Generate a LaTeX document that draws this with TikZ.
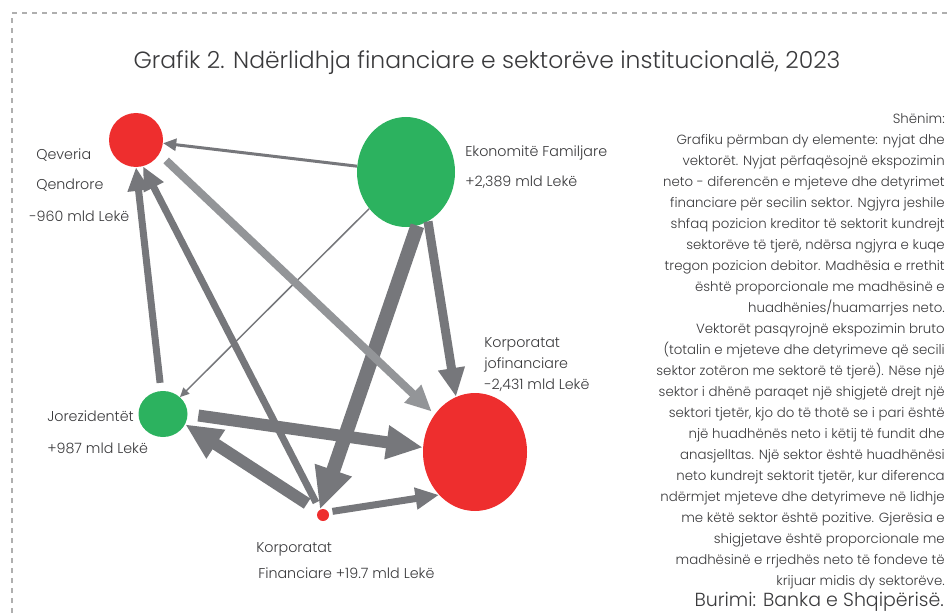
\documentclass[tikz,border=0pt]{standalone}
\usepackage{fontspec}
\setmainfont{Poppins}[UprightFont={* Light}]
\usetikzlibrary{arrows.meta,shapes.geometric}

\definecolor{kuqe}{RGB}{238,46,46}
\definecolor{jeshile}{RGB}{44,178,95}
\definecolor{shigjete}{RGB}{118,119,123}
\definecolor{shigjetecel}{RGB}{147,149,152}
\definecolor{teksti}{RGB}{58,58,60}
\definecolor{korniza}{RGB}{175,175,175}

\tikzset{
  sektor/.style={ellipse, inner sep=0pt, draw=none},
  etikete/.style={anchor=west, inner sep=0pt, text=teksti, font=\fontsize{10.7}{12}\selectfont},
  flow/.style={draw=shigjete, line width=#1*0.75pt, -{Triangle[width=4pt 2.2, length=4pt 2.6]}},
}

\begin{document}
\begin{tikzpicture}[x=0.75pt, y=-0.75pt]
\useasboundingbox (0,0) rectangle (948,613);

% korniza
\draw[korniza, line width=0.9pt, dash pattern=on 3.75pt off 3.75pt] (12,613) |- (948,13);

\node (titulli) at (487,63) [text=teksti, font=\fontsize{17.6}{20}\selectfont] {Grafik 2. Ndërlidhja financiare e sektorëve institucionalë, 2023};

% sektoret
\node[sektor, fill=kuqe, minimum width=40.5pt, minimum height=40.5pt] (qev) at (136,140) {};
\node[sektor, fill=jeshile, minimum width=73.5pt, minimum height=82.5pt] (eko) at (406,172) {};
\node[sektor, fill=jeshile, minimum width=36.75pt, minimum height=34.5pt] (jore) at (163,414) {};
\node[sektor, fill=kuqe, minimum width=9pt, minimum height=9pt] (kfin) at (323,515) {};
\node[sektor, fill=kuqe, minimum width=78pt, minimum height=88.5pt] (kjf) at (475,452) {};

% etiketat
\node[etikete] (qevA) at (36,155) {Qeveria};
\node[etikete] (qevB) at (36,185) {Qendrore};
\node[etikete] (qevC) at (29,216) {-960 mld Lekë};
\node[etikete] (ekoA) at (465,153) {Ekonomitë Familjare};
\node[etikete] (ekoB) at (465,182) {+2,389 mld Lekë};
\node[etikete] (kjfA) at (484,344) {Korporatat};
\node[etikete] (kjfB) at (484,365) {jofinanciare};
\node[etikete] (kjfC) at (484,385) {-2,431 mld Lekë};
\node[etikete] (joreA) at (47,416) {Jorezidentët};
\node[etikete] (joreB) at (47,448) {+987 mld Lekë};
\node[etikete] (kfinA) at (256,549) {Korporatat};
\node[etikete] (kfinB) at (258,573) {Financiare +19.7 mld Lekë};

% shigjetat
\draw[flow=3] (eko) -- (qev);
\draw[flow=1.5] (eko) -- (jore);
\draw[flow=14] (eko.-78) -- (kfin.121);
\draw[flow=9] (eko.-66) -- (kjf.109);
\draw[flow=8, draw=shigjetecel, shorten <=7pt, shorten >=3pt] (qev.-31) -- (kjf.137);
\draw[flow=7, shorten <=6pt] (jore.95) -- (qev.south);
\draw[flow=7, shorten <=6pt] (kfin.122) -- (qev.-75);
\draw[flow=12, shorten <=10pt] (kfin.139) -- (jore.-25);
\draw[flow=12, shorten <=8pt] (jore.east) -- (kjf.175);
\draw[flow=7, shorten <=3pt] (kfin.29) -- (kjf.-130);

% shenimi
\node (shenim) at (945,113) [anchor=north east, align=right, inner sep=0pt, text=teksti, font=\fontsize{10}{15.75}\selectfont]
{Shënim:\\
Grafiku përmban dy elemente: nyjat dhe\\
vektorët. Nyjat përfaqësojnë ekspozimin\\
neto - diferencën e mjeteve dhe detyrimet\\
financiare për secilin sektor. Ngjyra jeshile\\
shfaq pozicion kreditor të sektorit kundrejt\\
sektorëve të tjerë, ndërsa ngjyra e kuqe\\
tregon pozicion debitor. Madhësia e rrethit\\
është proporcionale me madhësinë e\\
huadhënies/huamarrjes neto.\\
Vektorët pasqyrojnë ekspozimin bruto\\
(totalin e mjeteve dhe detyrimeve që secili\\
sektor zotëron me sektorë të tjerë). Nëse një\\
sektor i dhënë paraqet një shigjetë drejt një\\
sektori tjetër, kjo do të thotë se i pari është\\
një huadhënës neto i këtij të fundit dhe\\
anasjelltas. Një sektor është huadhënësi\\
neto kundrejt sektorit tjetër, kur diferenca\\
ndërmjet mjeteve dhe detyrimeve në lidhje\\
me këtë sektor është pozitive. Gjerësia e\\
shigjetave është proporcionale me\\
madhësinë e rrjedhës neto të fondeve të\\
krijuar midis dy sektorëve.};
\node (burimi) at (944,602) [anchor=east, inner sep=0pt, text=teksti, font=\fontsize{14.2}{16}\selectfont] {Burimi: Banka e Shqipërisë.};

\end{tikzpicture}
\end{document}
